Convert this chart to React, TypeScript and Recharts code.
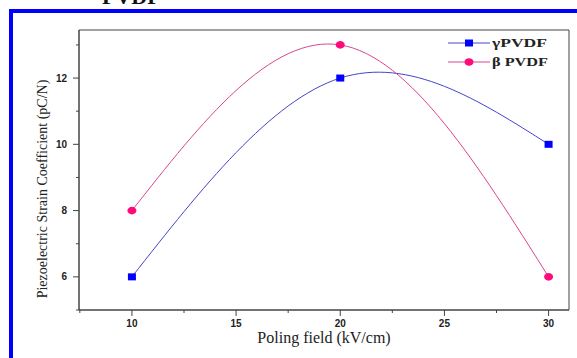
import React from 'react';
import { LineChart, Line, XAxis, YAxis, ReferenceArea, Legend } from 'recharts';

// values
const polingField = [10, 20, 30];
const gammaPVDF = [6, 12, 10];
const betaPVDF = [8, 13, 6];
const xTicks = [7.5, 10, 12.5, 15, 17.5, 20, 22.5, 25, 27.5, 30];
const yTicks = [5, 6, 7, 8, 9, 10, 11, 12, 13];
const xDomain = [7.46, 30.98];
const yDomain = [5, 13.45];

const data = polingField.map((x, i) => ({ x, gamma: gammaPVDF[i], beta: betaPVDF[i] }));

const AXIS = '#444';
const BLUE_LINE = '#4444c8';
const BLUE_DOT = '#0000ff';
const PINK_LINE = '#d8468f';
const PINK_DOT = '#ff0a7a';
const tickFont = { fontFamily: '"Liberation Sans", Arial, sans-serif', fontWeight: 700, fontSize: 10, fill: '#222' };
const serif = '"Liberation Serif", "Times New Roman", serif';

function XTick({ x, y, payload }: any) {
  const major = payload.value % 5 === 0;
  return (
    <g>
      <line x1={x} x2={x} y1={y} y2={y + (major ? 6 : 3)} stroke={AXIS} />
      {major && (
        <text x={x} y={y + 17} textAnchor="middle" {...tickFont}>
          {payload.value}
        </text>
      )}
    </g>
  );
}

function YTick({ x, y, payload }: any) {
  const major = payload.value % 2 === 0 && payload.value !== 5;
  return (
    <g>
      <line x1={x} x2={x - (major ? 6 : 3)} y1={y} y2={y} stroke={AXIS} />
      {major && (
        <text x={x - 12} y={y + 3.5} textAnchor="end" {...tickFont}>
          {payload.value}
        </text>
      )}
    </g>
  );
}

function Square({ cx, cy, index }: any) {
  return <rect key={`sq-${index}`} x={cx - 4} y={cy - 3.5} width={8} height={7} fill={BLUE_DOT} />;
}

function Dot({ cx, cy, index }: any) {
  return <ellipse key={`ci-${index}`} cx={cx} cy={cy} rx={4.5} ry={3.8} fill={PINK_DOT} />;
}

function LegendBox() {
  const txt = { fontFamily: serif, fontWeight: 700, fontSize: 12, fill: '#222' };
  return (
    <svg width={130} height={40}>
      <line x1={8} x2={50} y1={11} y2={11} stroke={BLUE_LINE} />
      <rect x={25} y={7.5} width={8} height={7} fill={BLUE_DOT} />
      <text x={52} y={15} {...txt} textLength={55} lengthAdjust="spacingAndGlyphs">γPVDF</text>
      <line x1={8} x2={50} y1={30} y2={30} stroke={PINK_LINE} />
      <ellipse cx={29} cy={30} rx={4.5} ry={3.8} fill={PINK_DOT} />
      <text x={52} y={34} {...txt} textLength={56} lengthAdjust="spacingAndGlyphs">β PVDF</text>
    </svg>
  );
}

export default function App() {
  return (
    <div style={{ position: 'absolute', left: 0, top: 0, width: 577, height: 358, background: '#fff', overflow: 'hidden' }}>
      <div
        style={{
          position: 'absolute',
          left: 9,
          top: 9,
          width: 580,
          height: 360,
          borderTop: '4px solid #0000ff',
          borderLeft: '4px solid #0000ff',
        }}
      />
      <svg width={577} height={20} style={{ position: 'absolute', left: 0, top: 0 }}>
        <text x={102} y={4} fontFamily={serif} fontWeight={700} fontSize={22} fill="#111">
          PVDF
        </text>
      </svg>
      <div style={{ position: 'absolute', left: 0, top: 0 }}>
        <LineChart width={577} height={358} data={data} margin={{ top: 30, right: 8, bottom: 0, left: 0 }}>
          <ReferenceArea
            x1={xDomain[0]}
            x2={xDomain[1]}
            y1={yDomain[0]}
            y2={yDomain[1]}
            fill="none"
            stroke={AXIS}
            ifOverflow="visible"
          />
          <XAxis
            type="number"
            dataKey="x"
            domain={xDomain}
            ticks={xTicks}
            interval={0}
            tickSize={0}
            tickMargin={0}
            tick={<XTick />}
            height={48}
            stroke={AXIS}
            label={{
              content: () => (
                <text x={324} y={343} textAnchor="middle" fontFamily={serif} fontSize={16} fill="#222">
                  Poling field (kV/cm)
                </text>
              ),
            }}
          />
          <YAxis
            type="number"
            domain={yDomain}
            ticks={yTicks}
            interval={0}
            tickSize={0}
            tickMargin={0}
            tick={<YTick />}
            width={79}
            stroke={AXIS}
            label={{
              content: () => (
                <text
                  x={47}
                  y={189}
                  transform="rotate(-90 47 189)"
                  textAnchor="middle"
                  fontFamily={serif}
                  fontSize={14}
                  fill="#222"
                >
                  Piezoelectric Strain Coefficient (pC/N)
                </text>
              ),
            }}
          />
          <Legend
            layout="vertical"
            align="center"
            verticalAlign="middle"
            wrapperStyle={{ left: 440, top: 32, width: 130 }}
            content={() => <LegendBox />}
          />
          <Line
            type="natural"
            dataKey="gamma"
            name="γPVDF"
            stroke={BLUE_LINE}
            strokeWidth={1}
            dot={(p: any) => <Square {...p} />}
            activeDot={false}
            isAnimationActive={false}
          />
          <Line
            type="natural"
            dataKey="beta"
            name="β PVDF"
            stroke={PINK_LINE}
            strokeWidth={1}
            dot={(p: any) => <Dot {...p} />}
            activeDot={false}
            isAnimationActive={false}
          />
        </LineChart>
      </div>
    </div>
  );
}
